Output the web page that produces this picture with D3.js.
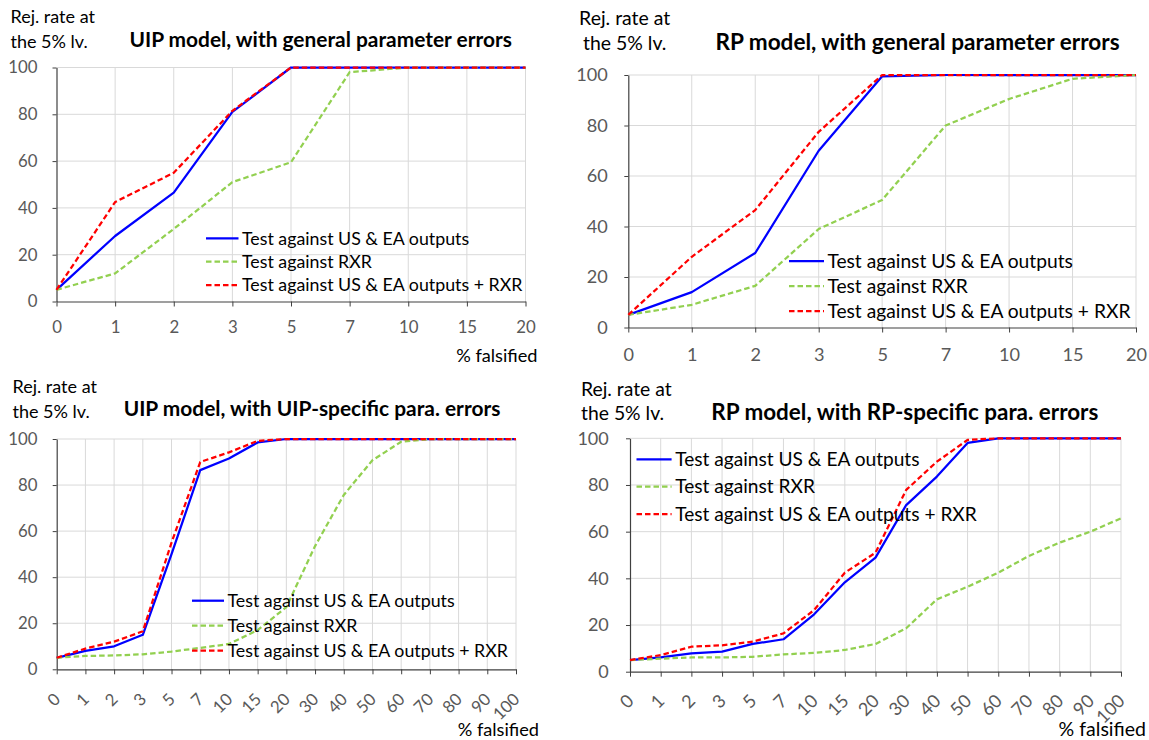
<!DOCTYPE html>
<html>
<head>
<meta charset="utf-8">
<script src="https://cdn.jsdelivr.net/npm/d3@7"></script>
<style>
  html, body { margin: 0; padding: 0; background: #ffffff; }
  svg { display: block; font-family: Lato, "Open Sans", sans-serif; }
</style>
</head>
<body>
<svg id="chart" width="1149" height="740"></svg>
<script>
// ---------------- data ----------------
const catsGeneral  = ["0","1","2","3","5","7","10","15","20"];
const catsSpecific = ["0","1","2","3","5","7","10","15","20","30","40","50","60","70","80","90","100"];
const yTickValues  = [0, 20, 40, 60, 80, 100];
const seriesNames  = ["Test against US & EA outputs", "Test against RXR", "Test against US & EA outputs + RXR"];
const panelTitles  = [
  "UIP model, with general parameter errors",
  "RP model, with general parameter errors",
  "UIP model, with UIP-specific para. errors",
  "RP model, with RP-specific para. errors"
];
const yTitleLines  = ["Rej. rate at", "the 5% lv."];
const xTitle       = "% falsified";

// UIP model, general parameter errors
const uipGenOutputs    = [5, 28, 46.5, 81, 100, 100, 100, 100, 100];
const uipGenRXR        = [5, 12, 31, 51, 59.5, 98, 100, 100, 100];
const uipGenOutputsRXR = [5, 42.5, 55, 81.5, 100, 100, 100, 100, 100];
// RP model, general parameter errors
const rpGenOutputs     = [5, 14, 29.5, 70, 99.5, 100, 100, 100, 100];
const rpGenRXR         = [5, 9, 16.5, 39, 50.5, 80, 90.5, 98.5, 100];
const rpGenOutputsRXR  = [5, 28, 46.5, 77.5, 100, 100, 100, 100, 100];
// UIP model, UIP-specific parameter errors
const uipSpecOutputs    = [5, 8, 10, 15, 50, 86.5, 91.5, 98.5, 100, 100, 100, 100, 100, 100, 100, 100, 100];
const uipSpecRXR        = [5, 5.8, 6, 6.5, 7.7, 9.3, 11, 17, 27, 53.5, 75.7, 90.8, 98.8, 100, 100, 100, 100];
const uipSpecOutputsRXR = [5, 9, 12, 16.5, 55, 90, 94.2, 99.2, 100, 100, 100, 100, 100, 100, 100, 100, 100];
// RP model, RP-specific parameter errors
const rpSpecOutputs     = [5, 6.1, 7.9, 8.6, 11.9, 13.9, 24.6, 38.3, 48.9, 71.4, 83.6, 98, 100, 100, 100, 100, 100];
const rpSpecRXR         = [5, 5.6, 6.1, 6.1, 6.4, 7.4, 8.1, 9.3, 11.9, 18.6, 31, 36.4, 42.4, 49.6, 55.3, 60, 65.7];
const rpSpecOutputsRXR  = [5, 7.1, 10.7, 11.3, 12.9, 16.4, 26.4, 42.4, 51, 77.9, 90, 99.3, 100, 100, 100, 100, 100];

// ---------------- styles / layout ----------------
const seriesStyles = [
  { color: "#0000ff", width: 2.25, dash: null },
  { color: "#92d050", width: 2.25, dash: "5.5,3" },
  { color: "#ff0000", width: 2.25, dash: "5.5,3" }
];
const drawOrder = [0, 1, 2];

const panels = [
  { title: panelTitles[0], cats: catsGeneral, data: [uipGenOutputs, uipGenRXR, uipGenOutputsRXR],
    plot: { x0: 56.5, x1: 525.5, y0: 67.5, y1: 301.5 }, fs: 1.0,
    titlePos: [320.7, 39.5], yTitle: { x: 10.5, ys: [16.7, 41.7], anchor: "start" },
    legend: { lx0: 206, lx1: 238.5, tx: 242, ys: [238.3, 261.7, 285] },
    yLabelGap: 19, xLabelOffset: 26, rotate: false, xTitlePos: [537.5, 356] },
  { title: panelTitles[1], cats: catsGeneral, data: [rpGenOutputs, rpGenRXR, rpGenOutputsRXR],
    plot: { x0: 628.3, x1: 1136, y0: 75, y1: 327.5 }, fs: 1.08,
    titlePos: [917.5, 42], yTitle: { x: 624.7, ys: [18.3, 43.3], anchor: "middle" },
    legend: { lx0: 789, lx1: 824, tx: 827.4, ys: [261, 286, 311] },
    yLabelGap: 20.6, xLabelOffset: 27.5, rotate: false, xTitlePos: null },
  { title: panelTitles[2], cats: catsSpecific, data: [uipSpecOutputs, uipSpecRXR, uipSpecOutputsRXR],
    plot: { x0: 56.7, x1: 516, y0: 439, y1: 669.3 }, fs: 1.0,
    titlePos: [312, 408.5], yTitle: { x: 12.5, ys: [386.7, 411.7], anchor: "start" },
    legend: { lx0: 192, lx1: 224, tx: 227.5, ys: [600.7, 625.7, 650.7] },
    yLabelGap: 19.2, xLabelOffset: 27, rotate: true, xTitlePos: [539, 730] },
  { title: panelTitles[3], cats: catsSpecific, data: [rpSpecOutputs, rpSpecRXR, rpSpecOutputsRXR],
    plot: { x0: 630, x1: 1121, y0: 438.3, y1: 671.7 }, fs: 1.075,
    titlePos: [904.8, 411.7], yTitle: { x: 581, ys: [389.3, 413.3], anchor: "start" },
    legend: { lx0: 636.5, lx1: 671.6, tx: 675.2, ys: [459.3, 486.7, 514] },
    yLabelGap: 21.2, xLabelOffset: 26, rotate: true, xTitlePos: [1146, 729.3] }
];

const SIZE_TICK = 16.8, SIZE_LEGEND = 17.8, SIZE_YTITLE = 18, SIZE_XTITLE = 18.2, SIZE_TITLE = 20.9;
const GRID = "#d9d9d9", AXIS = "#404040", TICKTXT = "#595959";

const svg = d3.select("#chart");

panels.forEach(p => {
  const g = svg.append("g");
  const x = d3.scalePoint().domain(p.cats).range([p.plot.x0, p.plot.x1]).padding(0);
  const y = d3.scaleLinear().domain([0, 100]).range([p.plot.y1, p.plot.y0]);

  // gridlines
  g.append("g").selectAll("line").data(yTickValues.filter(v => v > 0)).join("line")
    .attr("x1", p.plot.x0).attr("x2", p.plot.x1)
    .attr("y1", d => y(d)).attr("y2", d => y(d))
    .attr("stroke", GRID).attr("stroke-width", 1);
  g.append("g").selectAll("line").data(p.cats.slice(1)).join("line")
    .attr("x1", d => x(d)).attr("x2", d => x(d))
    .attr("y1", p.plot.y0).attr("y2", p.plot.y1)
    .attr("stroke", GRID).attr("stroke-width", 1);

  // y axis
  const yAxis = g.append("g").attr("transform", `translate(${p.plot.x0},0)`)
    .call(d3.axisLeft(y).tickValues(yTickValues).tickSizeInner(4).tickSizeOuter(0)
      .tickPadding(p.yLabelGap - 4).tickFormat(d3.format("d")));
  yAxis.select(".domain").attr("stroke", AXIS).attr("stroke-width", 1.2);
  yAxis.selectAll(".tick line").attr("stroke", AXIS);
  yAxis.selectAll(".tick text").attr("fill", TICKTXT)
    .style("font-size", (SIZE_TICK * p.fs) + "px").style("font-family", "Lato");

  // x axis
  const xAxis = g.append("g").attr("transform", `translate(0,${p.plot.y1})`)
    .call(d3.axisBottom(x).tickSizeInner(5).tickSizeOuter(0));
  xAxis.select(".domain").attr("stroke", AXIS).attr("stroke-width", 1.2);
  xAxis.selectAll(".tick line").attr("stroke", AXIS);
  const xt = xAxis.selectAll(".tick text").attr("fill", TICKTXT)
    .style("font-size", (SIZE_TICK * p.fs) + "px").style("font-family", "Lato");
  if (p.rotate) {
    xt.attr("x", 0).attr("y", 0).attr("dy", "0.35em").attr("text-anchor", "end")
      .attr("transform", `translate(0,${p.xLabelOffset}) rotate(-45)`);
  } else {
    xt.attr("y", p.xLabelOffset).attr("dy", "0.35em");
  }

  // series lines
  const line = d3.line().x((d, i) => x(p.cats[i])).y(d => y(d));
  drawOrder.forEach(si => {
    const st = seriesStyles[si];
    g.append("path").datum(p.data[si])
      .attr("d", line).attr("fill", "none")
      .attr("stroke", st.color).attr("stroke-width", st.width)
      .attr("stroke-dasharray", st.dash).attr("stroke-linejoin", "round");
  });

  // legend
  seriesNames.forEach((name, si) => {
    const st = seriesStyles[si];
    const ly = p.legend.ys[si];
    g.append("line").attr("x1", p.legend.lx0).attr("x2", p.legend.lx1)
      .attr("y1", ly).attr("y2", ly)
      .attr("stroke", st.color).attr("stroke-width", st.width)
      .attr("stroke-dasharray", st.dash);
    g.append("text").attr("x", p.legend.tx).attr("y", ly).attr("dy", "0.35em")
      .style("font-size", (SIZE_LEGEND * p.fs) + "px").attr("fill", "#000")
      .text(name);
  });

  // title
  g.append("text").attr("x", p.titlePos[0]).attr("y", p.titlePos[1]).attr("dy", "0.35em")
    .attr("text-anchor", "middle").style("font-weight", "bold")
    .style("font-size", (SIZE_TITLE * p.fs) + "px").text(p.title);

  // y title
  yTitleLines.forEach((t, i) => {
    g.append("text").attr("x", p.yTitle.x).attr("y", p.yTitle.ys[i]).attr("dy", "0.35em")
      .attr("text-anchor", p.yTitle.anchor)
      .style("font-size", (SIZE_YTITLE * p.fs) + "px").text(t);
  });

  // x title
  if (p.xTitlePos) {
    g.append("text").attr("x", p.xTitlePos[0]).attr("y", p.xTitlePos[1]).attr("dy", "0.35em")
      .attr("text-anchor", "end")
      .style("font-size", (SIZE_XTITLE * p.fs) + "px").text(xTitle);
  }
});
</script>
</body>
</html>
